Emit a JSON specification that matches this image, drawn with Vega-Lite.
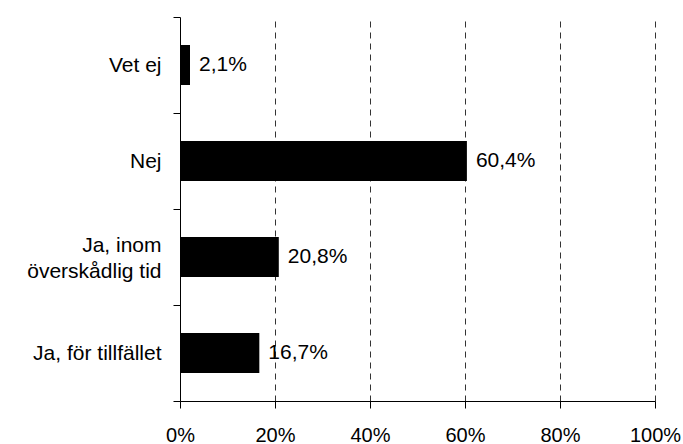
{
  "$schema": "https://vega.github.io/schema/vega-lite/v6.json",
  "width": 475,
  "height": 384,
  "autosize": {"type": "none"},
  "padding": {"left": 180, "top": 17, "right": 28, "bottom": 43},
  "background": "white",
  "config": {
    "view": {"stroke": null},
    "font": "Liberation Sans",
    "locale": {"number": {"decimal": ",", "thousands": " ", "grouping": [3], "currency": ["", " kr"]}}
  },
  "data": {
    "values": [
      {"svar": "Vet ej", "andel": 0.021},
      {"svar": "Nej", "andel": 0.604},
      {"svar": "Ja, inom överskådlig tid", "andel": 0.208},
      {"svar": "Ja, för tillfället", "andel": 0.167}
    ]
  },
  "encoding": {
    "y": {
      "field": "svar",
      "type": "nominal",
      "sort": ["Vet ej", "Nej", "Ja, inom överskådlig tid", "Ja, för tillfället"],
      "scale": {"paddingInner": 0, "paddingOuter": 0},
      "axis": {
        "title": null,
        "domainColor": "black",
        "tickColor": "black",
        "tickSize": 7,
        "tickBand": "extent",
        "labelFontSize": 21,
        "labelColor": "black",
        "labelPadding": 12,
        "labelLineHeight": 26,
        "labelOffset": {"condition": {"test": "datum.value == 'Ja, inom överskådlig tid'", "value": -12}, "value": 0},
        "labelExpr": "datum.label == 'Ja, inom överskådlig tid' ? ['Ja, inom', 'överskådlig tid'] : datum.label",
        "grid": false
      }
    },
    "x": {
      "field": "andel",
      "type": "quantitative",
      "scale": {"domain": [0, 1]},
      "axis": {
        "title": null,
        "format": ".0%",
        "values": [0, 0.2, 0.4, 0.6, 0.8, 1],
        "grid": true,
        "gridColor": "#333333",
        "gridDash": [6, 5],
        "gridWidth": 1,
        "domainColor": "black",
        "tickColor": "black",
        "tickSize": 7,
        "labelPadding": 17,
        "labelFontSize": 20,
        "labelColor": "black",
        "labelFlush": false
      }
    }
  },
  "layer": [
    {"mark": {"type": "bar", "color": "black", "size": 40}},
    {
      "mark": {"type": "text", "align": "left", "baseline": "middle", "dx": 9, "fontSize": 21, "color": "black"},
      "encoding": {"text": {"field": "andel", "type": "quantitative", "format": ".1%"}}
    }
  ]
}
